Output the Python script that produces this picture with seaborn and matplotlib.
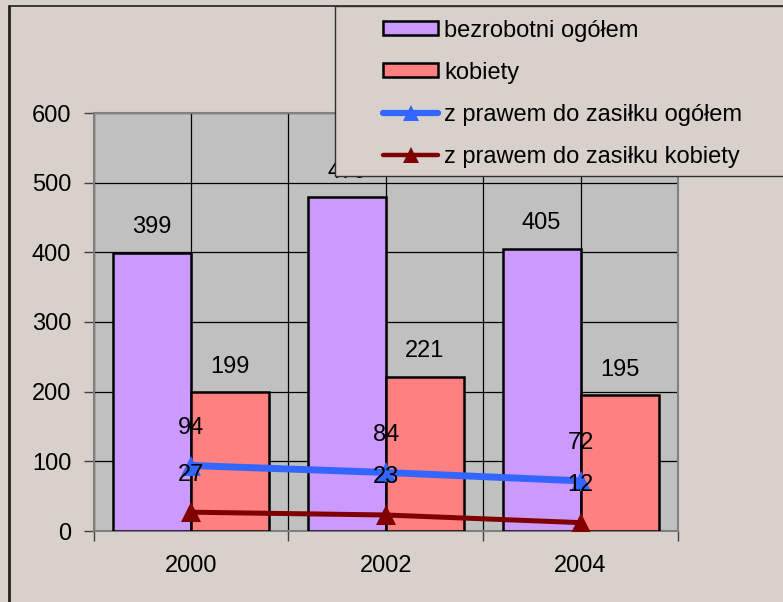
import numpy as np
import pandas as pd
import matplotlib.pyplot as plt
import seaborn as sns
from matplotlib.patches import Rectangle, Patch
from matplotlib.lines import Line2D

# dane z wykresu (tys. osob)
years = ["2000", "2002", "2004"]
bezrobotni = [399, 479, 405]
kobiety = [199, 221, 195]
zasilek_ogolem = [94, 84, 72]
zasilek_kobiety = [27, 23, 12]

bar_names = ["bezrobotni ogółem", "kobiety"]
line_names = ["z prawem do zasiłku ogółem", "z prawem do zasiłku kobiety"]
bar_colors = ["#CC99FF", "#FF8080"]
line_colors = ["#3366FF", "#800000"]
bg = "#D8D0CA"

sns.set_theme(style="white")
plt.rcParams["font.family"] = ["Liberation Sans", "DejaVu Sans"]
plt.rcParams["font.size"] = 17
plt.rcParams["text.color"] = "black"
plt.rcParams["xtick.color"] = "black"
plt.rcParams["ytick.color"] = "black"

W, H = 783, 602
fig = plt.figure(figsize=(W / 100, H / 100), dpi=100, facecolor=bg)
ax = fig.add_axes([93.5 / W, 1 - 531 / H, (678 - 93.5) / W, (531 - 113) / H])
ax.set_facecolor("#C0C0C0")

bars = pd.DataFrame({
    "rok": years * 2,
    "seria": [bar_names[0]] * len(years) + [bar_names[1]] * len(years),
    "wartosc": bezrobotni + kobiety,
})
sns.barplot(data=bars, x="rok", y="wartosc", hue="seria", palette=bar_colors,
            width=0.8, saturation=1, edgecolor="black", linewidth=1.8,
            legend=False, ax=ax, zorder=3)

for cont in ax.containers:
    ax.bar_label(cont, padding=10.5, fontsize=17, color="black", zorder=6)

x = np.arange(len(years))
for vals, col, lw in [(zasilek_ogolem, line_colors[0], 5), (zasilek_kobiety, line_colors[1], 3.6)]:
    sns.lineplot(x=x, y=vals, color=col, linewidth=lw, marker="^", markersize=15,
                 markeredgewidth=0, markeredgecolor=col, ax=ax, zorder=4)
    for xi, v in zip(x, vals):
        ax.annotate(str(v), (xi, v), xytext=(0, 27), textcoords="offset points",
                    ha="center", va="center", fontsize=17, color="black", zorder=6)

ax.set_xlim(-0.5, len(years) - 0.5)
ax.set_ylim(0, 600)
ax.set_yticks(range(0, 601, 100))
ax.set_xticks(x)
ax.set_xticklabels(years)
ax.set_xticks(np.arange(-0.5, len(years), 1), minor=True)
ax.set_xlabel("")
ax.set_ylabel("")

ax.tick_params(axis="x", which="major", bottom=True, length=0, pad=17.5, labelsize=17,
               labelcolor="black")
ax.tick_params(axis="x", which="minor", bottom=True, length=7, width=1, color="#404040")
ax.tick_params(axis="y", left=True, length=7, width=1, color="#404040", pad=9, labelsize=17,
               labelcolor="black")
ax.grid(True, which="both", color="black", linewidth=0.9)
ax.set_axisbelow(True)
for sp in ax.spines.values():
    sp.set_visible(True)
    sp.set_color("#808080")
    sp.set_linewidth(1.5)

# ramka wykresu
fig.add_artist(Line2D([9 / W, 9 / W], [0, 1 - 6 / H], transform=fig.transFigure,
                      color="#202020", lw=2))
fig.add_artist(Line2D([9 / W, 1], [1 - 6 / H, 1 - 6 / H], transform=fig.transFigure,
                      color="#202020", lw=1.2))

# legenda
fig.add_artist(Rectangle((335 / W, 1 - 176 / H), 1, (176 - 6) / H, transform=fig.transFigure,
                         facecolor=bg, edgecolor="#303030", lw=1, zorder=10))
handles = [Patch(facecolor=c, edgecolor="black", linewidth=1.8) for c in bar_colors]
handles += [Line2D([], [], color=c, lw=lw, marker="^", markersize=12, markeredgewidth=0)
            for c, lw in zip(line_colors, [4.5, 3.2])]
leg = fig.legend(handles, bar_names + line_names, loc="upper left",
                 bbox_to_anchor=(383 / W, 1 - 19.5 / H), frameon=False, borderpad=0,
                 borderaxespad=0, handlelength=2.35, handleheight=0.55,
                 handletextpad=0.25, labelspacing=0.85, fontsize=17)
leg.set_zorder(11)
for t in leg.get_texts():
    t.set_color("black")

fig.savefig("out.png", dpi=100, facecolor=bg)
